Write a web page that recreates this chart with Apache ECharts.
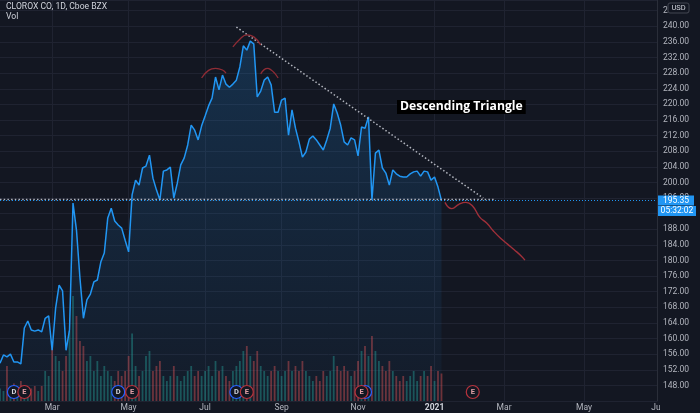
<!DOCTYPE html>
<html><head><meta charset="utf-8">
<script src="https://cdn.jsdelivr.net/npm/echarts@6/dist/echarts.min.js"></script>
<style>html,body{margin:0;padding:0;background:#131722;}#c{width:700px;height:413px;}</style>
</head><body><div id="c"></div>
<script>
// ---- data ----
const startDate = '2020-01-20';      // first category (every other weekday)
const endDate = '2021-07-01';        // last category
const weekdayStep = 2;
const monthNames = ['Jan','Feb','Mar','Apr','May','Jun','Jul','Aug','Sep','Oct','Nov','Dec'];

const prices = [
  153.7,155.8,155.3,156.0,154.0,154.0,153.5,162.7,164.5,162.2,
  161.9,162.2,161.7,165.2,165.8,157.0,167.8,173.7,172.2,157.0,
  162.2,194.7,187.8,175.5,165.2,169.9,171.4,174.5,175.0,179.6,
  181.9,190.9,193.4,190.1,189.1,188.3,185.2,182.2,196.8,200.6,
  199.3,203.7,204.2,207.0,201.1,198.1,195.5,202.9,203.2,203.9,
  196.0,199.8,204.5,206.3,209.6,214.7,213.4,210.9,214.5,217.0,
  219.6,221.6,227.0,223.7,227.5,225.2,224.4,225.2,226.2,229.6,
  235.0,233.9,236.2,235.5,221.9,223.4,226.2,227.0,225.0,218.0,
  218.0,221.1,221.6,212.1,218.6,213.9,210.4,206.5,207.8,211.1,
  211.9,210.9,209.6,208.3,210.9,213.9,220.1,217.8,214.7,210.4,
  209.6,211.4,210.9,206.8,214.2,213.9,216.8,195.5,207.5,208.3,
  203.7,202.4,199.3,203.2,202.2,201.6,201.4,201.4,202.2,202.7,
  202.9,201.6,202.9,202.7,200.6,201.4,198.8,195.35
];
const volumes = [ // millions
  0.5,0.4,1.4,0.6,0.7,0.5,0.8,0.6,0.4,0.5,
  0.6,0.4,0.6,1.2,1.0,2.3,1.8,1.6,1.2,1.8,
  2.8,4.2,3.4,2.4,2.2,1.6,1.8,1.2,1.6,1.0,
  1.4,1.2,1.0,0.8,1.2,1.0,1.2,1.8,2.7,1.4,
  1.0,1.2,1.8,2.0,1.2,1.4,1.6,1.0,0.8,1.0,
  1.4,1.0,0.8,1.0,1.2,1.4,1.0,1.2,1.0,1.2,
  1.4,1.0,1.6,1.2,1.4,1.0,0.8,1.2,1.4,1.6,
  2.0,2.2,1.8,1.6,2.0,1.4,1.2,1.0,1.2,1.4,
  1.2,1.0,1.2,1.6,1.2,1.4,1.2,1.6,1.2,1.0,
  0.8,1.0,0.8,1.2,1.0,1.2,1.8,1.4,1.2,1.4,
  1.2,1.0,1.2,1.6,2.0,2.2,1.8,2.6,2.0,1.6,
  1.4,1.2,1.6,1.2,1.0,0.8,1.0,0.8,1.0,1.2,
  0.8,1.0,1.2,1.0,1.4,0.8,1.2,1.1
];
const lastPrice = 195.35;
const countdown = '05:32:02';

const forecastDates = ['2021-01-12','2021-01-18','2021-01-22','2021-01-28','2021-02-03','2021-02-09','2021-02-15','2021-02-19','2021-02-25','2021-03-03','2021-03-09','2021-03-15','2021-03-17'];
const forecastPrices = [194.9,193.3,194.4,194.9,193.9,191.1,189.6,187.5,185.7,184.2,182.7,181.1,180.1];

const trendDates = ['2020-07-28','2021-02-11'];
const trendPrices = [239.8,196.0];
const supportDates = ['2020-01-20','2021-02-19'];
const supportPrices = [195.6,195.6];

const leftShoulderDates = ['2020-06-30','2020-07-06','2020-07-10','2020-07-16','2020-07-20'];
const leftShoulderPrices = [226.75,228.7,229.2,228.8,228.0];
const headDates = ['2020-07-24','2020-07-30','2020-08-05','2020-08-11','2020-08-17'];
const headPrices = [234.7,236.7,237.8,237.3,235.2];
const rightShoulderDates = ['2020-08-17','2020-08-19','2020-08-21','2020-08-25','2020-08-27','2020-08-31'];
const rightShoulderPrices = [227.8,228.9,229.2,228.8,228.0,226.75];

const dividendDates = ['2020-01-30','2020-04-23','2020-07-28','2020-11-09'];
const earningsDates = ['2020-02-07','2020-05-05','2020-08-05','2020-11-05','2021-02-03'];

// ---- build categories (every other weekday) ----
function fmt(d){return d.toISOString().slice(0,10);}
const cats = [];
{
  let d = new Date(startDate + 'T00:00:00Z'), end = new Date(endDate + 'T00:00:00Z'), n = 0;
  while (d <= end) {
    const wd = d.getUTCDay();
    if (wd !== 0 && wd !== 6) { if (n % weekdayStep === 0) cats.push(fmt(d)); n++; }
    d = new Date(d.getTime() + 86400000);
  }
}
const idx = s => cats.indexOf(s);
const pairs = (ds, vs) => ds.map((d, i) => [idx(d), vs[i]]);
function isLabel(i){
  if (i === 0) return false;
  const m = +cats[i].slice(5,7), pm = +cats[i-1].slice(5,7);
  return m !== pm && m % 2 === 1;
}
const volData = volumes.map((v, i) => ({
  value: v,
  itemStyle: {color: (i > 0 && prices[i] < prices[i-1]) ? 'rgba(239,83,80,0.42)' : 'rgba(38,166,154,0.42)'}
}));

const grey = '#b2b5be';
const arcStyle = {color:'#8f2c35', width:1.3};
const chart = echarts.init(document.getElementById('c'), null, {renderer:'canvas'});
const option = {
  backgroundColor: '#131722',
  animation: false,
  textStyle: {fontFamily: 'Roboto, sans-serif'},
  title: {
    text: 'CLOROX CO, 1D, Cboe BZX', subtext: 'Vol', left: 6, top: 2, padding: 0, itemGap: 1,
    textStyle: {color:'#d1d4dc', fontSize:8.6, fontWeight:'normal'},
    subtextStyle: {color:'#d1d4dc', fontSize:8.6}
  },
  grid: {left:0, right:43, top:0, bottom:12},
  xAxis: {
    type:'category', data: cats, boundaryGap:false,
    axisLine:{show:false}, axisTick:{show:false},
    axisLabel:{
      interval:(i)=>isLabel(i), color:grey, fontSize:8.5, margin:2,
      formatter:(v)=>{const m=+v.slice(5,7); return m===1 ? '{y|'+v.slice(0,4)+'}' : monthNames[m-1];},
      rich:{y:{color:'#d1d4dc', fontSize:8.5, fontWeight:'bold'}}
    },
    splitLine:{show:true, interval:(i)=>isLabel(i), lineStyle:{color:'#1f2331', width:1}}
  },
  yAxis: [
    {type:'value', position:'right', min:144, max:246.74, interval:4,
     axisLine:{show:true, lineStyle:{color:'#2a2e39'}}, axisTick:{show:false},
     axisLabel:{color:grey, fontSize:8.5, margin:6, showMinLabel:false, showMaxLabel:false,
       formatter:(v)=>v.toFixed(2)},
     splitLine:{show:true, lineStyle:{color:'#1f2331', width:1}}},
    {type:'value', min:0, max:16.04, show:false}
  ],
  series: [
    {type:'bar', name:'Vol', yAxisIndex:1, data: volData, barWidth:1.8, z:1, silent:true},
    {type:'line', name:'CLX', data: prices, showSymbol:false, z:3,
     lineStyle:{color:'#2196f3', width:1.5},
     areaStyle:{origin:'start', color:new echarts.graphic.LinearGradient(0,0,0,1,[
       {offset:0,color:'rgba(33,150,243,0.28)'},{offset:1,color:'rgba(33,150,243,0.05)'}])},
     markLine:{silent:true, symbol:'none', label:{show:false},
       lineStyle:{color:'#2196f3', type:[1,2], width:1}, data:[{yAxis:lastPrice}]}},
    {type:'line', data: pairs(supportDates, supportPrices), showSymbol:false, z:4,
     lineStyle:{color:grey, width:1.5, type:[1.5,2.2]}},
    {type:'line', data: pairs(trendDates, trendPrices), showSymbol:false, z:4,
     lineStyle:{color:grey, width:1.5, type:[1.5,2.2]}},
    {type:'line', data: pairs(forecastDates, forecastPrices), showSymbol:false, smooth:true, z:4,
     lineStyle:{color:'#a0303a', width:1.4}},
    {type:'line', data: pairs(leftShoulderDates, leftShoulderPrices), showSymbol:false, smooth:true, z:4, lineStyle:arcStyle},
    {type:'line', data: pairs(headDates, headPrices), showSymbol:false, smooth:true, z:4, lineStyle:arcStyle},
    {type:'line', data: pairs(rightShoulderDates, rightShoulderPrices), showSymbol:false, smooth:true, z:4, lineStyle:arcStyle},
    {type:'scatter', yAxisIndex:1, data: dividendDates.map(d=>[idx(d),0]), symbol:'circle', symbolSize:13,
     symbolOffset:[0,-9], z:5, itemStyle:{color:'#131722', borderColor:'#2962ff', borderWidth:1.2, opacity:1},
     label:{show:true, position:'inside', formatter:'D', color:'#d1d4dc', fontSize:7.5, fontWeight:'bold'}},
    {type:'scatter', yAxisIndex:1, data: earningsDates.map(d=>[idx(d),0]), symbol:'circle', symbolSize:13,
     symbolOffset:[0,-9], z:6, itemStyle:{color:'#131722', borderColor:'#b7333d', borderWidth:1.2, opacity:1},
     label:{show:true, position:'inside', formatter:'E', color:'#e0a0a6', fontSize:7.5, fontWeight:'bold'}}
  ]
};
chart.setOption(option);

const W = chart.getWidth(), H = chart.getHeight();
const axisX = W - 43;
const yp = chart.convertToPixel({yAxisIndex:0}, lastPrice);
chart.setOption({
  graphic: [
    {type:'rect', z:100, shape:{x:axisX+3, y:H-11, width:W-axisX, height:11}, style:{fill:'#131722'}},
    {type:'rect', z:100, shape:{x:axisX+11, y:3, width:21, height:10, r:2}, style:{fill:'#131722', stroke:'#434651', lineWidth:1}},
    {type:'text', z:101, x:axisX+21.5, y:8, style:{text:'USD', fill:'#d1d4dc', font:'7.5px Roboto', align:'center', verticalAlign:'middle'}},
    {type:'rect', z:100, shape:{x:axisX+1, y:yp-5, width:36, height:10}, style:{fill:'#2196f3'}},
    {type:'text', z:101, x:axisX+19, y:yp, style:{text:lastPrice.toFixed(2), fill:'#ffffff', font:'8.5px Roboto', align:'center', verticalAlign:'middle'}},
    {type:'rect', z:100, shape:{x:axisX+1, y:yp+5.5, width:38, height:10}, style:{fill:'#2196f3'}},
    {type:'text', z:101, x:axisX+20, y:yp+10.5, style:{text:countdown, fill:'#ffffff', font:'8.5px Roboto', align:'center', verticalAlign:'middle'}},
    {type:'text', z:101, left:397, top:100, style:{text:'Descending Triangle', fill:'#ffffff', font:'bold 12.2px "Open Sans"',
      backgroundColor:'#000000', padding:[1,3,1,3]}}
  ]
});
</script></body></html>
